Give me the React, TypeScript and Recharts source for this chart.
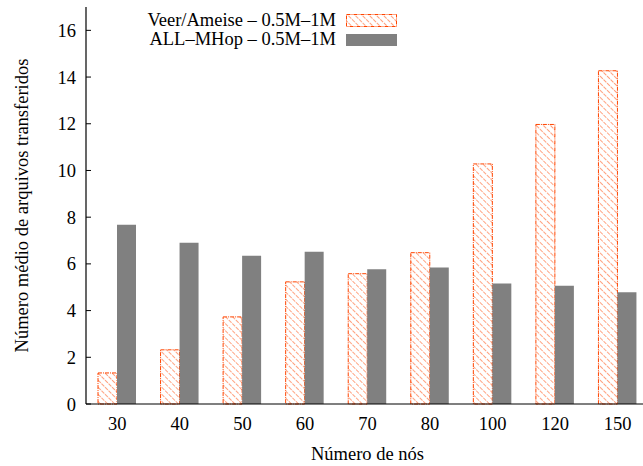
import { Bar, BarChart, Label, Legend, XAxis, YAxis } from "recharts";

const nodes = ["30", "40", "50", "60", "70", "80", "100", "120", "150"];
const veerAmeise = [1.33, 2.32, 3.73, 5.23, 5.58, 6.48, 10.28, 11.97, 14.27];
const allMHop = [7.68, 6.9, 6.35, 6.52, 5.77, 5.84, 5.16, 5.06, 4.78];
const yTicks = [0, 2, 4, 6, 8, 10, 12, 14, 16];

const veerName = "Veer/Ameise – 0.5M–1M";
const mhopName = "ALL–MHop – 0.5M–1M";

const data = nodes.map((node, i) => ({
  node,
  veer: veerAmeise[i],
  mhop: allMHop[i],
}));

const FONT = "'Liberation Serif', 'Times New Roman', serif";
const FS = 18.5;
const HATCH = "#ff5a1f";
const GRAY = "#808080";

function HatchDefs({ id }: { id: string }) {
  return (
    <defs>
      <pattern id={id} patternUnits="userSpaceOnUse" width="5" height="5" patternTransform="rotate(-45)">
        <line x1="0" y1="0" x2="0" y2="5" stroke={HATCH} strokeOpacity={0.95} strokeWidth={1.2} strokeDasharray="2 1" />
      </pattern>
    </defs>
  );
}

function LegendBox() {
  return (
    <div style={{ position: "relative", width: 420, height: 50, fontFamily: FONT, fontSize: FS, color: "#000" }}>
      <div style={{ position: "absolute", top: 10, left: 0, width: 336, textAlign: "right", lineHeight: "21px" }}>
        {veerName}
      </div>
      <svg style={{ position: "absolute", top: 14, left: 346 }} width={51} height={14}>
        <HatchDefs id="hatchLegend" />
        <rect x={0.5} y={0.5} width={50} height={12} fill="url(#hatchLegend)" stroke="#ff4500" strokeDasharray="4 1 1 1" />
      </svg>
      <div style={{ position: "absolute", top: 29, left: 0, width: 336, textAlign: "right", lineHeight: "21px" }}>
        {mhopName}
      </div>
      <svg style={{ position: "absolute", top: 34, left: 346 }} width={51} height={13}>
        <rect x={0} y={0} width={51} height={12} fill={GRAY} />
      </svg>
    </div>
  );
}

function YTick(props: any) {
  const { x, y, payload } = props;
  return (
    <g>
      <line x1={x + 10} x2={x + 15} y1={y} y2={y} stroke="#000" strokeWidth={1} />
      <text x={x} y={y} dy="0.355em" textAnchor="end" fontFamily={FONT} fontSize={FS} fill="#000">
        {payload.value}
      </text>
    </g>
  );
}

export default function App() {
  return (
    <div style={{ position: "absolute", top: 0, left: 0, width: 643, height: 466, overflow: "hidden", background: "#fff" }}>
      <BarChart
        width={649}
        height={466}
        data={data}
        margin={{ top: 7, right: 0, bottom: 0, left: 0 }}
        barSize={19}
        barGap={0}
      >
        <defs>
          <pattern id="hatch" patternUnits="userSpaceOnUse" width="5" height="5" patternTransform="rotate(-45)">
            <line x1="0" y1="0" x2="0" y2="5" stroke={HATCH} strokeOpacity={0.95} strokeWidth={1.2} strokeDasharray="2 1" />
          </pattern>
        </defs>
        <XAxis
          dataKey="node"
          height={62}
          tickLine={false}
          tickSize={0}
          tickMargin={13}
          axisLine={{ stroke: "#000", strokeWidth: 1.2 }}
          tick={{ fontFamily: FONT, fontSize: FS, fill: "#000" }}
        >
          <Label value="Número de nós" position="insideBottom" offset={6} fontFamily={FONT} fontSize={FS} fill="#000" />
        </XAxis>
        <XAxis
          xAxisId="top"
          dataKey="node"
          orientation="top"
          height={0}
          mirror
          tick={false}
          tickSize={4}
          tickLine={{ stroke: "#000" }}
          axisLine={{ stroke: "#000", strokeWidth: 1.2 }}
        />
        <YAxis
          width={86}
          domain={[0, 17]}
          ticks={yTicks}
          interval={0}
          tickLine={false}
          tickSize={0}
          tickMargin={10}
          axisLine={{ stroke: "#000", strokeWidth: 1.2 }}
          tick={<YTick />}
        >
          <Label
            content={(p: any) => {
              const vb = p.viewBox;
              const cx = vb.x + 22;
              const cy = vb.y + vb.height / 2;
              return (
                <text
                  x={cx}
                  y={cy}
                  transform={`rotate(-90, ${cx}, ${cy})`}
                  textAnchor="middle"
                  dominantBaseline="central"
                  fontFamily={FONT}
                  fontSize={FS}
                  fill="#000"
                >
                  Número médio de arquivos transferidos
                </text>
              );
            }}
          />
        </YAxis>
        <Legend
          layout="vertical"
          align="center"
          verticalAlign="middle"
          wrapperStyle={{ top: 0, left: 0, width: 420, height: 50 }}
          content={() => <LegendBox />}
        />
        <Bar
          dataKey="veer"
          name={veerName}
          fill="url(#hatch)"
          stroke="#ff4500"
          strokeWidth={1}
          strokeDasharray="4 1 1 1"
          isAnimationActive={false}
        />
        <Bar dataKey="mhop" name={mhopName} fill={GRAY} isAnimationActive={false} />
      </BarChart>
    </div>
  );
}
